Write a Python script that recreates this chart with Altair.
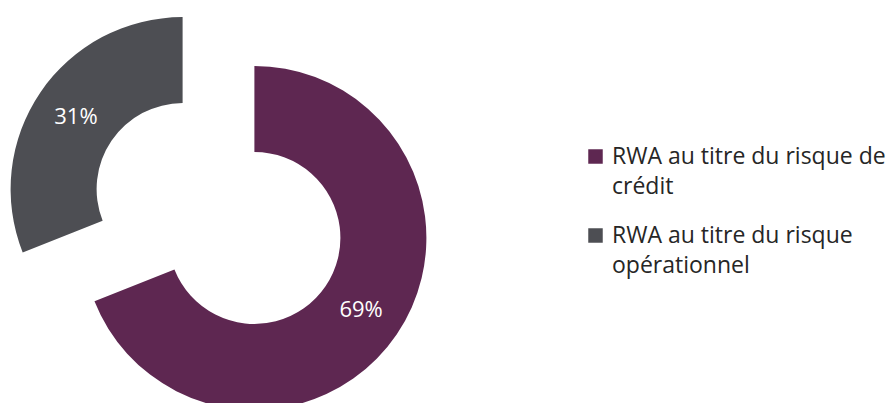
import altair as alt
import pandas as pd
import textwrap

# ---- data ----
categories = ["RWA au titre du risque de crédit", "RWA au titre du risque opérationnel"]
shares = [69, 31]
share_labels = ["69%", "31%"]
colors = ["#5E2751", "#4D4E53"]

df = pd.DataFrame({"cat": categories, "share": shares, "label": share_labels,
                   "order": list(range(len(categories)))})

# ---- layout ----
CX, CY = 218.5, 213.5      # centre of the un-exploded donut
EXPLODE = 43.4             # explosion distance of each slice
R_OUT, R_IN = 172, 86
R_LABEL = (R_OUT + R_IN) / 2
FONT = "Open Sans"

# wrapped legend labels
def js_list(lines):
    return "[" + ",".join("'" + l.replace("'", "\\'") + "'" for l in lines) + "]"

expr = "datum.label"
for cat in reversed(categories):
    expr = f"datum.label == '{cat}' ? {js_list(textwrap.wrap(cat, 25))} : ({expr})"

base = (
    alt.Chart(df)
    .transform_joinaggregate(total="sum(share)")
    .transform_window(cum="sum(share)", sort=[alt.SortField("order")], frame=[None, 0])
    .transform_calculate(t0="2*PI*(datum.cum - datum.share)/datum.total")
    .transform_calculate(t1="2*PI*datum.cum/datum.total")
    .transform_calculate(mid="(datum.t0 + datum.t1)/2")
    .transform_calculate(cx=f"{CX} + {EXPLODE}*sin(datum.mid)")
    .transform_calculate(cy=f"{CY} - {EXPLODE}*cos(datum.mid)")
)

xenc = alt.X("cx:Q", scale=None, axis=None)
yenc = alt.Y("cy:Q", scale=None, axis=None)

arcs = base.mark_arc(innerRadius=R_IN, outerRadius=R_OUT).encode(
    x=xenc,
    y=yenc,
    theta=alt.Theta("t0:Q", scale=None),
    theta2="t1:Q",
    color=alt.Color(
        "cat:N",
        scale=alt.Scale(domain=categories, range=colors),
        legend=alt.Legend(
            orient="none", legendX=584, legendY=145, title=None,
            symbolType="square", symbolSize=210, symbolStrokeWidth=0,
            labelFont=FONT, labelFontSize=23, labelColor="#262626",
            labelExpr=expr, labelLimit=0, labelOffset=5, rowPadding=25,
        ),
    ),
)

texts = base.mark_text(font=FONT, fontSize=22, color="white").encode(
    x=xenc,
    y=yenc,
    theta=alt.Theta("mid:Q", scale=None),
    radius=alt.value(R_LABEL),
    text="label:N",
)

chart = (
    alt.layer(arcs, texts)
    .properties(width=891, height=403, autosize="none", padding=0)
    .configure(style={"guide-label": {"lineHeight": 30}})
    .configure_view(stroke=None)
)

chart.save("out.html", embed_options={"renderer": "svg", "actions": False})
